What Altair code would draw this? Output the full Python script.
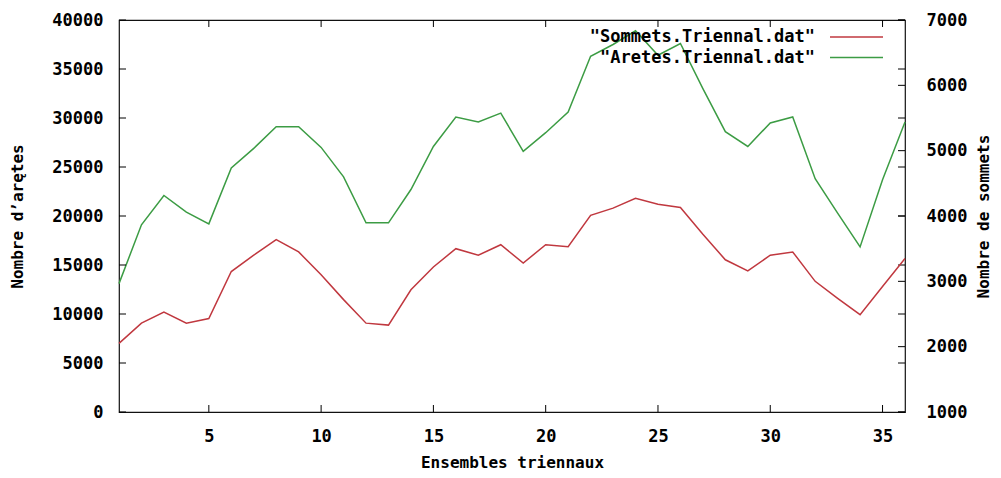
import altair as alt
import pandas as pd

# ---- data ----
x_vals = list(range(1, 37))
aretes = [13100, 19100, 22100, 20400, 19200, 24900, 26900, 29100, 29100, 27000,
          24000, 19300, 19300, 22700, 27100, 30100, 29600, 30500, 26600, 28500,
          30600, 36300, 37500, 38900, 36400, 37600, 33000, 28600, 27100, 29500,
          30100, 23800, 20300, 16850, 23700, 29600]
sommets = [2050, 2360, 2530, 2360, 2430, 3150, 3400, 3640, 3450, 3100,
           2720, 2360, 2330, 2870, 3220, 3500, 3400, 3560, 3280, 3560,
           3530, 4010, 4120, 4270, 4180, 4130, 3720, 3330, 3160, 3400,
           3450, 3000, 2740, 2490, 2920, 3350]
left_ticks = [0, 5000, 10000, 15000, 20000, 25000, 30000, 35000, 40000]
right_ticks = [1000, 2000, 3000, 4000, 5000, 6000, 7000]
x_ticks = [5, 10, 15, 20, 25, 30, 35]
legend_labels = ['"Sommets.Triennal.dat"', '"Aretes.Triennal.dat"']
series_colors = ["#c0383f", "#3c9c44"]

W, H = 786, 392
FONT = "DejaVu Sans Mono"
FS = 17
TFS = 16
TL = 7

df_a = pd.DataFrame({"x": x_vals, "v": aretes})
df_s = pd.DataFrame({"x": x_vals, "v": sommets})
df_lt = pd.DataFrame({"v": left_ticks})
df_rt = pd.DataFrame({"v": right_ticks})
df_xt = pd.DataFrame({"x": x_ticks})

xscale = alt.Scale(domain=[1, 36], nice=False, zero=False)
yl = alt.Scale(domain=[0, 40000], nice=False, zero=False)
yr = alt.Scale(domain=[1000, 7000], nice=False, zero=False)

common_axis = dict(ticks=False, domain=False, grid=False, labelFont=FONT,
                   labelFontWeight="bold", labelFontSize=FS, labelColor="black",
                   titleFont=FONT, titleFontWeight="bold", titleFontSize=TFS,
                   titleColor="black", format="d")

x_axis = alt.Axis(values=x_ticks, title="Ensembles triennaux", labelPadding=16,
                  titleY=50, titleBaseline="middle", **common_axis)
yl_axis = alt.Axis(orient="left", values=left_ticks, title="Nombre d’arętes",
                   labelPadding=16, titleX=-102, titleY=H / 2, titleAngle=270,
                   titleBaseline="middle", titleAlign="center", **common_axis)
yr_axis = alt.Axis(orient="right", values=right_ticks, title="Nombre de sommets",
                   labelPadding=21, titleX=78, titleY=H / 2, titleAngle=270,
                   titleBaseline="middle", titleAlign="center", **common_axis)


def X(field):
    return alt.X(field, scale=xscale, axis=x_axis)


def YL(field):
    return alt.Y(field, scale=yl, axis=yl_axis)


def YR(field):
    return alt.Y(field, scale=yr, axis=yr_axis)


green = alt.Chart(df_a).mark_line(color=series_colors[1], strokeWidth=1.5).encode(
    x=X("x:Q"), y=YL("v:Q"))

ltick_l = alt.Chart(df_lt).mark_rule(color="black").encode(
    y=YL("v:Q"), x=alt.value(0), x2=alt.value(TL))
ltick_r = alt.Chart(df_lt).mark_rule(color="black").encode(
    y=YL("v:Q"), x=alt.value(W - TL), x2=alt.value(W))
xtick_b = alt.Chart(df_xt).mark_rule(color="black").encode(
    x=X("x:Q"), y=alt.value(H - TL), y2=alt.value(H))
xtick_t = alt.Chart(df_xt).mark_rule(color="black").encode(
    x=X("x:Q"), y=alt.value(0), y2=alt.value(TL))

left_layer = alt.layer(green, ltick_l, ltick_r, xtick_b, xtick_t)

red = alt.Chart(df_s).mark_line(color=series_colors[0], strokeWidth=1.5).encode(
    x=X("x:Q"), y=YR("v:Q"))
rtick = alt.Chart(df_rt).mark_rule(color="black").encode(
    y=YR("v:Q"), x=alt.value(W - TL), x2=alt.value(W))

legend_y = [17, 37.5]
legend_layers = []
for lab, col, yy in zip(legend_labels, series_colors, legend_y):
    d = pd.DataFrame({"t": [lab]})
    legend_layers.append(
        alt.Chart(d).mark_text(align="right", baseline="middle", font=FONT,
                               fontWeight="bold", fontSize=FS, color="black").encode(
            text="t:N", x=alt.value(696), y=alt.value(yy)))
    legend_layers.append(
        alt.Chart(d).mark_rule(color=col, strokeWidth=1.5).encode(
            x=alt.value(711), x2=alt.value(764), y=alt.value(yy)))

right_layer = alt.layer(red, rtick, *legend_layers)

chart = alt.layer(left_layer, right_layer).resolve_scale(y="independent").properties(
    width=W, height=H,
    padding={"left": 111, "top": 12, "right": 88, "bottom": 58},
    autosize=alt.AutoSizeParams(type="none"),
    background="white",
).configure_view(stroke="#111", strokeWidth=1.2)

chart.save("out.html", embed_options={"renderer": "svg", "actions": False})
